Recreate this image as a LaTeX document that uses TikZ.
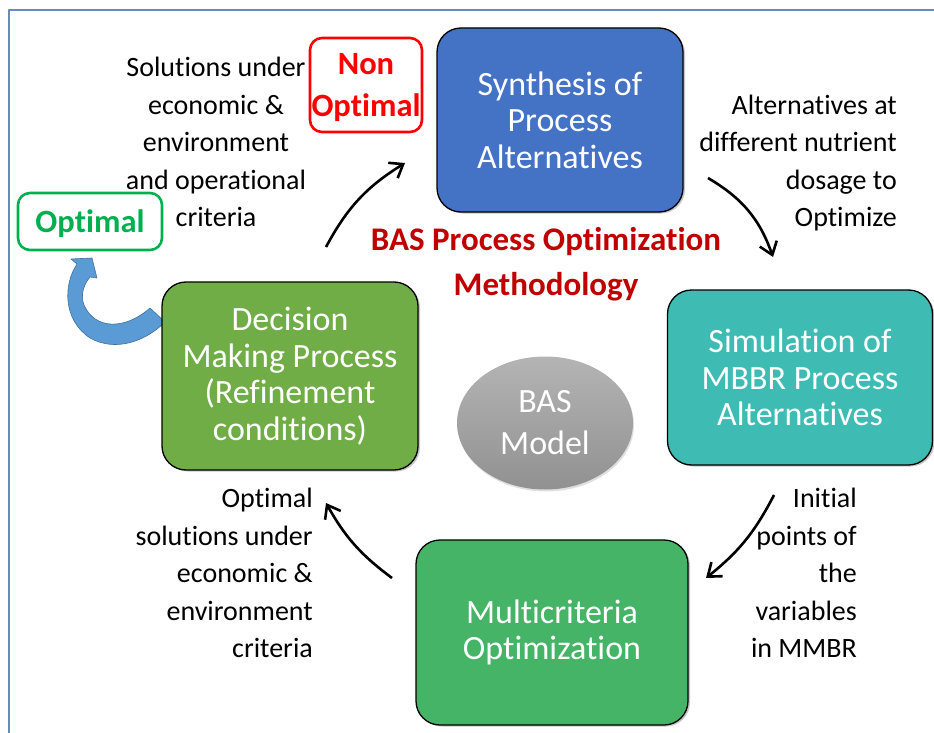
\documentclass[tikz,border=0pt]{standalone}
\usepackage{fontspec}
\setmainfont{Carlito}[Ligatures=NoCommon]
\usepackage{xcolor}
\usetikzlibrary{arrows.meta, positioning, shapes.geometric, shadows}

\definecolor{synthblue}{RGB}{68,114,196}
\definecolor{simteal}{RGB}{62,188,180}
\definecolor{multigreen}{RGB}{70,180,102}
\definecolor{decidegreen}{RGB}{112,173,71}
\definecolor{modeltop}{RGB}{180,180,180}
\definecolor{modelbot}{RGB}{145,145,145}
\definecolor{titlered}{RGB}{192,0,0}
\definecolor{nonred}{RGB}{255,0,0}
\definecolor{optgreen}{RGB}{0,176,80}
\definecolor{arrowblue}{RGB}{91,155,213}
\definecolor{arrowedge}{RGB}{65,113,156}
\definecolor{framecol}{RGB}{100,140,190}

\begin{document}
\begin{tikzpicture}[x=1pt,y=-1pt,line join=round,>={Straight Barb[length=12pt,width=18pt]}]
  \tikzstyle{stage}=[rectangle, rounded corners=24pt, draw=black, line width=1.3pt, text=white, align=center, font=\fontsize{34}{36.5}\selectfont, drop shadow={shadow xshift=2pt,shadow yshift=-1.5pt,opacity=0.45}]
  \tikzstyle{remark}=[inner sep=0pt, font=\fontsize{28}{37.5}\selectfont]
  \tikzstyle{verdict}=[rectangle, rounded corners=12pt, line width=2.6pt, font=\bfseries\fontsize{32.5}{42}\selectfont, align=center, inner sep=0pt, text depth=0pt]
  \tikzstyle{loop arrow}=[line width=2.6pt]

  \useasboundingbox (0,0) rectangle (934,733);
  \draw[framecol, line width=1.6pt] (9,733) -- (9,10) -- (934,10);

  \filldraw[fill=arrowblue, draw=arrowedge, line width=0.6pt]
    (150,308) .. controls (125,330) and (95,330) .. (84,305)
    .. controls (80,295) and (84,284) .. (90,277) -- (97,278) -- (92,258) -- (71,259) -- (77,264)
    .. controls (63,285) and (63,320) .. (90,338)
    .. controls (115,352) and (145,342) .. (165,322) -- cycle;

  \node[stage, fill=synthblue, minimum width=246pt, minimum height=184pt](synth) at (560,120) {Synthesis of\\Process\\Alternatives};
  \node[stage, fill=simteal, minimum width=265pt, minimum height=175pt](sim) at (800,377.5) {Simulation of\\MBBR Process\\Alternatives};
  \node[stage, fill=multigreen, minimum width=272pt, minimum height=185pt](multi) at (552,632.5) {Multicriteria\\Optimization};
  \node[stage, fill=decidegreen, minimum width=256pt, minimum height=188pt](decide) at (290,376) {Decision\\Making Process\\(Refinement\\conditions)};
  \node[ellipse, minimum width=176pt, minimum height=133pt, top color=modeltop, bottom color=modelbot, text=white, align=center, font=\fontsize{34}{42}\selectfont, drop shadow={shadow xshift=1pt,shadow yshift=-2pt,opacity=0.25}](model) at (545,423) {BAS\\Model};

  \node[font=\bfseries\fontsize{33}{45}\selectfont, text=titlered, align=center](title) at (546,264.5) {BAS Process Optimization\\Methodology};

  \node[verdict, draw=nonred, text=nonred, minimum width=112pt, minimum height=94pt](non_opt) at (366,85) {Non\\Optimal};
  \node[verdict, draw=optgreen, text=optgreen, minimum width=144pt, minimum height=57pt](opt) at (90,221.5) {Optimal};

  \node[remark, align=center](sol_note) at (216,142) {Solutions under\\economic \&\\environment\\and operational\\criteria};
  \node[remark, align=right, anchor=east](alt_note) at (897,163) {Alternatives at\\different nutrient\\dosage to\\Optimize};
  \node[remark, align=right, anchor=east](init_note) at (857,573) {Initial\\points of\\the\\variables\\in MMBR};
  \node[remark, align=right, anchor=east](optsol_note) at (313,573) {Optimal\\solutions under\\economic \&\\environment\\criteria};

  \coordinate (up_s) at (326,247);
  \coordinate (up_e) at (405,163);
  \coordinate (rt_s) at (708,178);
  \coordinate (rt_e) at (773,257);
  \coordinate (dn_s) at (774,495);
  \coordinate (dn_e) at (706,578);
  \coordinate (lt_s) at (392,578);
  \coordinate (lt_e) at (326,503);

  \path[->, loop arrow]
  (up_s) edge  [bend left=15]  (up_e)
  (rt_s) edge  [bend left=20]  (rt_e)
  (dn_s) edge  [bend left=12]  (dn_e)
  (lt_s) edge  [bend left=12]  (lt_e);
\end{tikzpicture}
\end{document}
